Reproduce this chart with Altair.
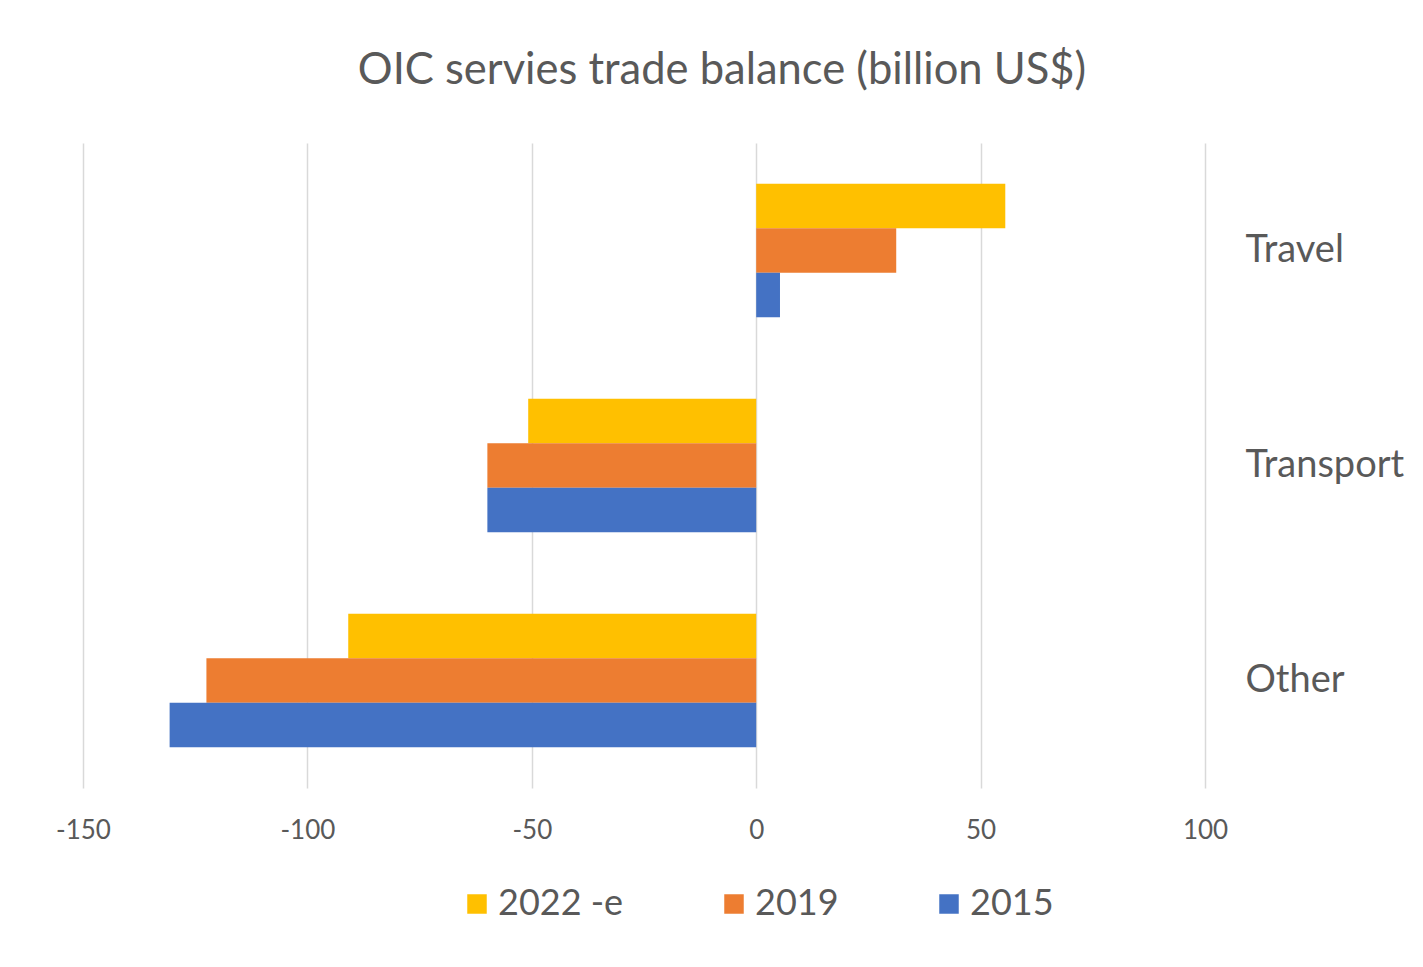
import altair as alt
import pandas as pd

categories = ["Travel", "Transport", "Other"]
series = ["2022 -e", "2019", "2015"]
colors = ["#FFC000", "#ED7D31", "#4472C4"]
values_2022e = [55.5, -50.8, -90.9]
values_2019 = [31.2, -59.9, -122.5]
values_2015 = [5.3, -59.9, -130.7]
x_ticks = [-150, -100, -50, 0, 50, 100]

rows = []
for s, vals in zip(series, [values_2022e, values_2019, values_2015]):
    for c, v in zip(categories, vals):
        rows.append({"category": c, "series": s, "value": v})
df = pd.DataFrame(rows)

FONT = "Lato"
TXT = "#595959"

chart = alt.Chart(df).mark_bar().encode(
    x=alt.X("value:Q",
            scale=alt.Scale(domain=[-150, 100], nice=False, zero=True),
            axis=alt.Axis(values=x_ticks, title=None, domain=False, ticks=False,
                          tickSize=0, labelPadding=29, labelFontSize=26,
                          labelFlush=False,
                          labelExpr="datum.value < 0 ? '-' + abs(datum.value) : '' + datum.value",
                          labelColor=TXT, labelFont=FONT,
                          grid=True, gridColor="#D9D9D9", gridWidth=1.5)),
    y=alt.Y("category:N", sort=categories,
            scale=alt.Scale(paddingInner=0.38, paddingOuter=0.19),
            axis=alt.Axis(orient="right", title=None, domain=False, ticks=False,
                          tickSize=0, labelPadding=40, labelAlign="left",
                          labelFontSize=38, labelColor=TXT, labelFont=FONT,
                          grid=False)),
    yOffset=alt.YOffset("series:N", sort=series,
                        scale=alt.Scale(paddingInner=0, paddingOuter=0)),
    color=alt.Color("series:N", sort=series,
                    scale=alt.Scale(domain=series, range=colors),
                    legend=alt.Legend(orient="none", legendX=376, legendY=743,
                                      direction="horizontal", title=None,
                                      symbolType="square", symbolSize=380,
                                      symbolStrokeWidth=0, symbolOpacity=1,
                                      labelFontSize=36, labelColor=TXT, labelFont=FONT,
                                      labelOffset=3, columnPadding=92, padding=0)),
).properties(
    width=1122,
    height=645,
    background="white",
    title=alt.TitleParams("OIC servies trade balance (billion US$)",
                          font=FONT, fontSize=43.5, fontWeight="normal", color=TXT,
                          anchor="middle", frame="group", dx=78, offset=50),
    autosize=alt.AutoSizeParams(type="none"),
    padding={"left": 75, "top": 135, "right": 200, "bottom": 160},
).configure_view(strokeWidth=0, stroke="transparent")

chart.save("out.html", embed_options={"renderer": "svg", "actions": False})
